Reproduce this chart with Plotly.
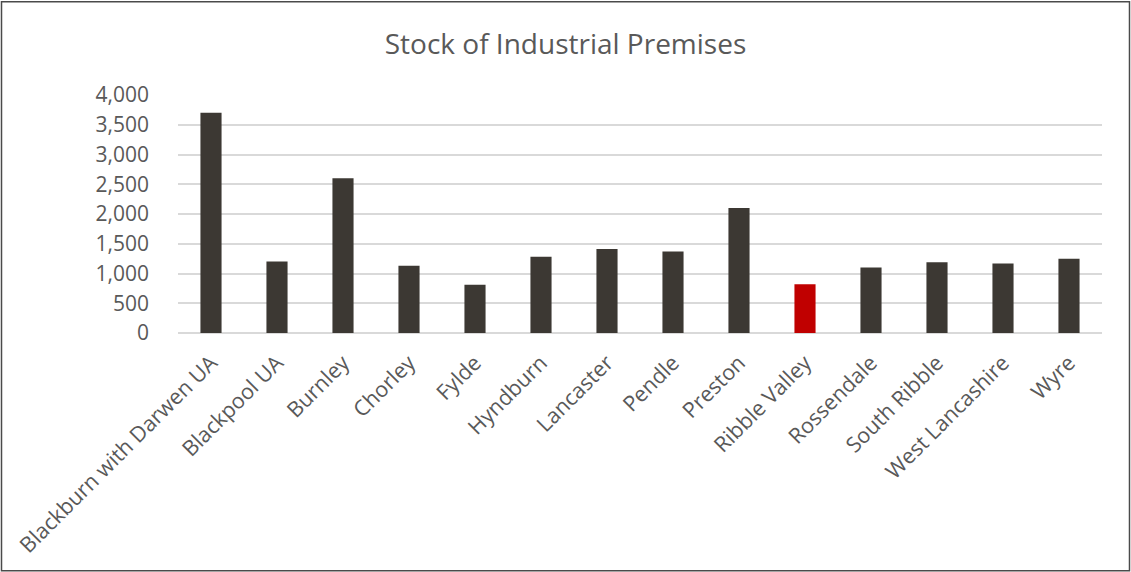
import plotly.graph_objects as go

# Industrial premises stock by Lancashire district
districts = [
    "Blackburn with Darwen UA", "Blackpool UA", "Burnley", "Chorley", "Fylde",
    "Hyndburn", "Lancaster", "Pendle", "Preston", "Ribble Valley",
    "Rossendale", "South Ribble", "West Lancashire", "Wyre",
]
premises = [3700, 1200, 2600, 1130, 810, 1280, 1410, 1370, 2100, 820,
            1100, 1190, 1170, 1250]
highlight = "Ribble Valley"

y_ticks = [0, 500, 1000, 1500, 2000, 2500, 3000, 3500, 4000]

W, H = 1131, 572
ML, MR, MT, MB = 178, 29, 94.7, 239.3

bar_colors = ["#C00000" if d == highlight else "#3C3833" for d in districts]

fig = go.Figure(
    go.Bar(
        x=districts,
        y=premises,
        marker=dict(color=bar_colors, line=dict(width=0)),
        width=0.32,
    )
)

font_family = "Open Sans, Noto Sans, DejaVu Sans, sans-serif"
text_color = "#595959"

pw = W - ML - MR
ph = H - MT - MB

fig.update_layout(
    width=W,
    height=H,
    margin=dict(l=ML, r=MR, t=MT, b=MB, pad=0),
    paper_bgcolor="white",
    plot_bgcolor="white",
    showlegend=False,
    font=dict(family=font_family, color=text_color, size=21),
    title=dict(
        text="Stock of Industrial Premises",
        x=0.5,
        xref="container",
        xanchor="center",
        y=1 - 44 / H,
        yref="container",
        yanchor="middle",
        font=dict(size=28, color=text_color, family=font_family),
    ),
    xaxis=dict(
        tickangle=-45,
        showgrid=False,
        showline=False,
        ticks="",
        ticklabelstandoff=12,
        tickfont=dict(size=21.5, color=text_color),
    ),
    yaxis=dict(
        range=[0, 4000],
        tickvals=y_ticks,
        tickformat=",d",
        showgrid=True,
        gridcolor="#D9D9D9",
        gridwidth=1.5,
        zeroline=True,
        zerolinecolor="#D9D9D9",
        zerolinewidth=1.5,
        showline=False,
        ticks="",
        ticklabelstandoff=28,
        tickfont=dict(size=21, color=text_color),
    ),
    shapes=[
        dict(
            type="rect",
            xref="paper",
            yref="paper",
            x0=(1.5 - ML) / pw,
            x1=(W - 1.5 - ML) / pw,
            y0=-(MB - 1.5) / ph,
            y1=1 + (MT - 1.5) / ph,
            line=dict(color="#4A4A4A", width=1.5),
            fillcolor="rgba(0,0,0,0)",
            layer="above",
        )
    ],
)

fig.write_html("out.html")
